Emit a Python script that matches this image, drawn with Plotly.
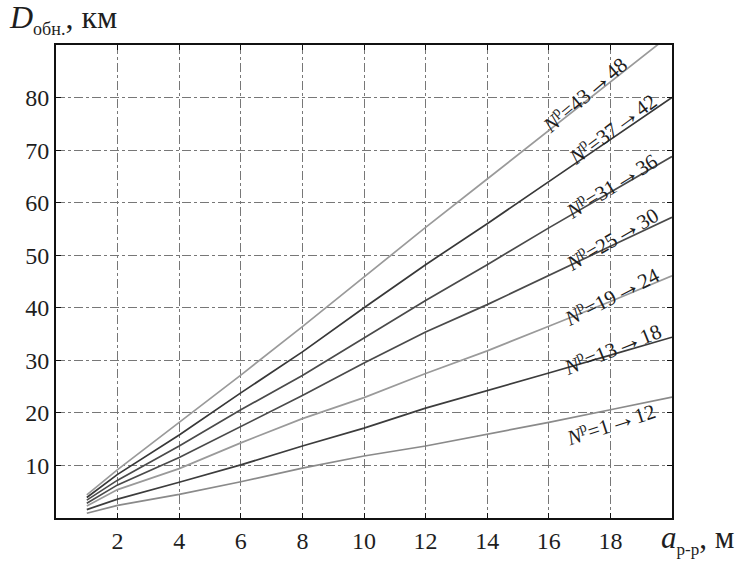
import plotly.graph_objects as go

# Array separation a (m) at which each curve was evaluated
a_sep = [1, 2, 4, 6, 8, 10, 12, 14, 16, 18, 20]

# Detection range D (km) for each group of channel numbers
d_1_12 = [0.9, 2.4, 4.5, 6.9, 9.5, 11.8, 13.7, 15.9, 18.2, 20.6, 23.0]
d_13_18 = [1.6, 3.6, 6.8, 10.1, 13.7, 17.1, 20.9, 24.2, 27.6, 31.0, 34.4]
d_19_24 = [2.3, 5.4, 9.4, 14.3, 18.9, 22.9, 27.5, 31.8, 36.5, 41.2, 46.1]
d_25_30 = [2.8, 6.3, 11.5, 17.4, 23.3, 29.5, 35.4, 40.6, 46.2, 51.7, 57.2]
d_31_36 = [3.4, 7.2, 13.7, 20.6, 27.1, 34.2, 41.4, 48.2, 55.2, 62.0, 68.8]
d_37_42 = [3.9, 8.3, 15.8, 23.8, 31.6, 40.0, 48.2, 56.0, 64.0, 72.0, 80.0]
d_43_48 = [4.4, 9.2, 18.2, 27.2, 36.4, 45.8, 55.3, 64.5, 73.8, 83.0, 92.2]

group_from = [1, 13, 19, 25, 31, 37, 43]
group_to = [12, 18, 24, 30, 36, 42, 48]
series = [d_1_12, d_13_18, d_19_24, d_25_30, d_31_36, d_37_42, d_43_48]

x_ticks = [2, 4, 6, 8, 10, 12, 14, 16, 18]
y_ticks = [10, 20, 30, 40, 50, 60, 70, 80]

# Styling per curve
line_colors = ["#8a8a8a", "#3c3c3c", "#9a9a9a", "#4a4a4a", "#4a4a4a", "#383838", "#9a9a9a"]
# Label placement (data coords) and rotation for each curve tag
label_pos = [(18.0, 18.0), (18.03, 32.4), (18.03, 42.5), (18.03, 53.2),
             (18.0, 63.4), (18.03, 74.2), (17.12, 80.7)]
label_angle = [-18, -22, -27, -30.5, -32, -36.5, -40.5]

SERIF = "Liberation Serif, Times New Roman, serif"
INK = "#1e1e1e"
ARROW = "<span style='font-size:27px'>→</span>"

fig = go.Figure()
for g0, g1, ys, col in zip(group_from, group_to, series, line_colors):
    fig.add_trace(go.Scatter(
        x=a_sep, y=ys, mode="lines", name=f"{g0}–{g1}",
        line=dict(color=col, width=1.7),
        showlegend=False,
    ))

for g0, g1, (lx, ly), ang in zip(group_from, group_to, label_pos, label_angle):
    fig.add_annotation(
        x=lx, y=ly, xref="x", yref="y",
        text=f"<i>N</i><sup>р</sup>={g0}{ARROW}{g1}",
        textangle=ang, showarrow=False,
        font=dict(family=SERIF, size=21, color=INK),
        xanchor="center", yanchor="middle",
    )

# Axis titles
fig.add_annotation(
    xref="paper", yref="paper", x=-0.08, y=1.055,
    xanchor="left", yanchor="middle", showarrow=False,
    text="<i>D</i><sub><span style='font-size:18px'>обн.</span></sub>, км",
    font=dict(family=SERIF, size=32, color=INK),
)
fig.add_annotation(
    xref="paper", yref="paper", x=1.104, y=-0.045,
    xanchor="right", yanchor="middle", showarrow=False,
    text="<i>a</i><sub><span style='font-size:17px'>р-р</span></sub>, м",
    font=dict(family=SERIF, size=31, color=INK),
)

axis_common = dict(
    showline=True, linecolor="#111", linewidth=1.8, mirror="ticks",
    ticks="inside", ticklen=5, tickwidth=1.3, tickcolor="#111",
    showgrid=True, gridcolor="#777", gridwidth=0.7, griddash="dashdot",
    zeroline=False,
    tickfont=dict(family=SERIF, size=24, color=INK),
)

fig.update_xaxes(range=[0, 20], tickvals=x_ticks, **axis_common)
fig.update_yaxes(range=[0, 90], tickvals=y_ticks, **axis_common)

fig.update_layout(
    width=736, height=566,
    margin=dict(l=56, r=64, t=45, b=35),
    paper_bgcolor="white", plot_bgcolor="white",
)

fig.write_html("out.html")
